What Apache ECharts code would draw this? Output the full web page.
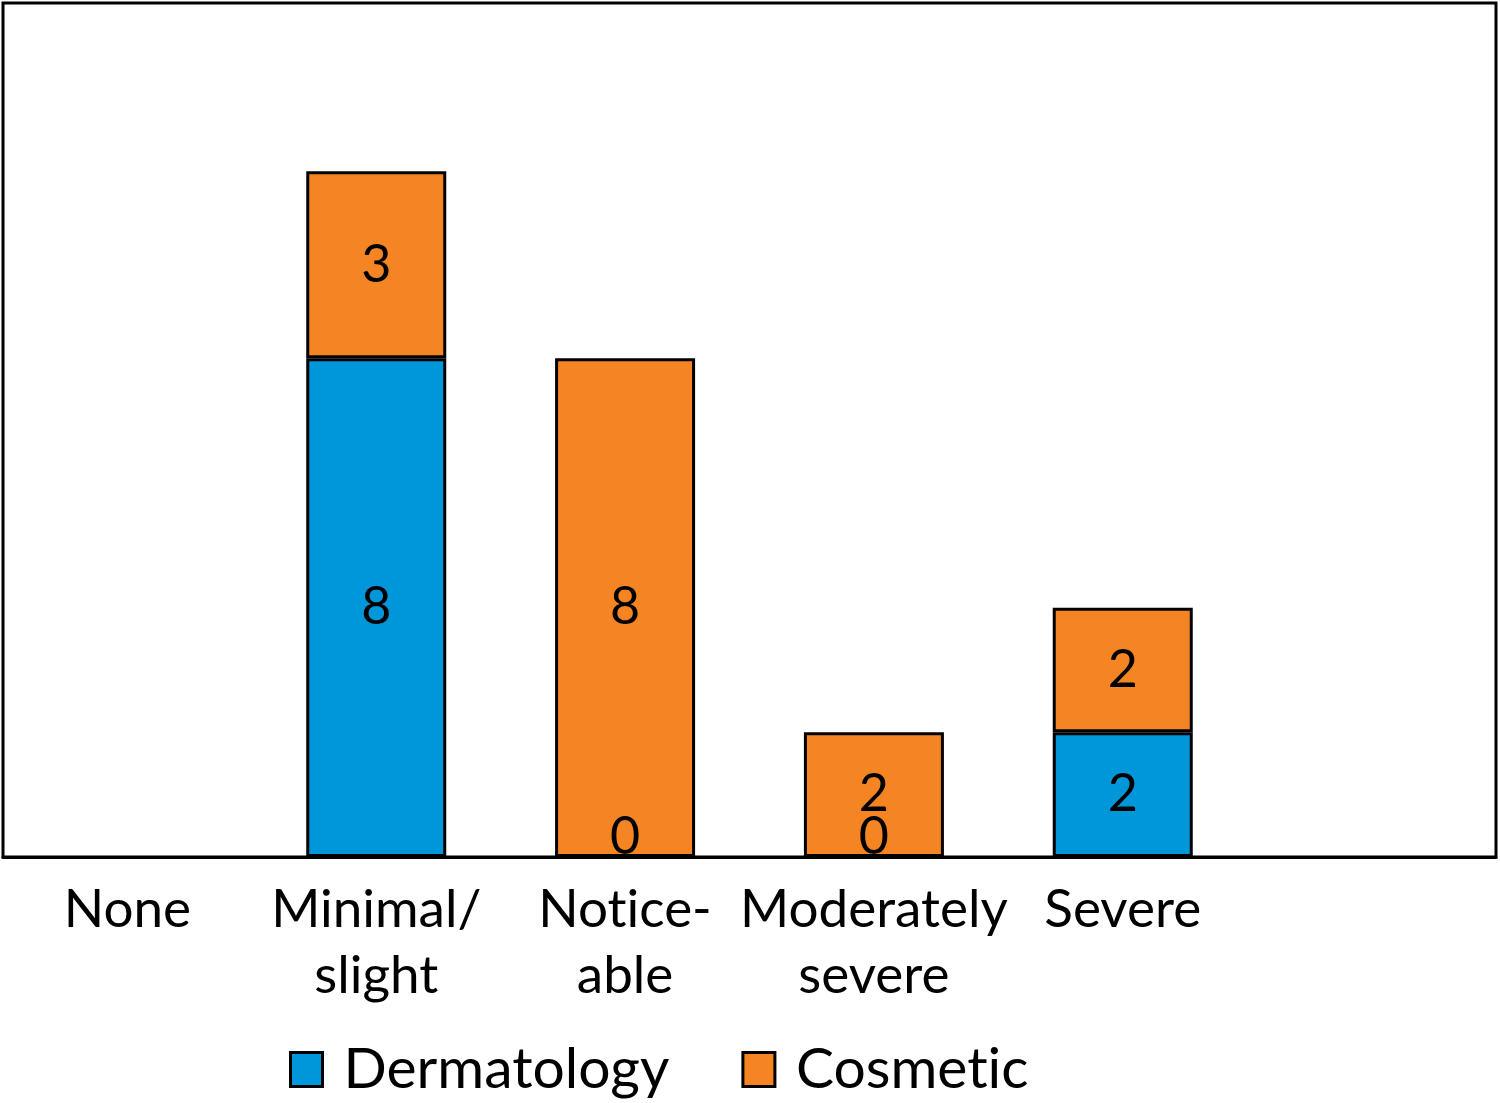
<!DOCTYPE html>
<html><head><meta charset="utf-8">
<script src="https://cdn.jsdelivr.net/npm/echarts@6/dist/echarts.min.js"></script>
<style>html,body{margin:0;padding:0;background:#fff}#c{width:1500px;height:1103px}</style>
</head><body><div id="c"></div>
<script>
const categories = ['None', 'Minimal/\nslight', 'Notice-\nable', 'Moderately\nsevere', 'Severe', ''];
const dermatology = [null, 8, 0, 0, 2, null];
const cosmetic = [null, 3, 8, 2, 2, null];
const seriesNames = ['Dermatology', 'Cosmetic'];
const colors = ['#0096DA', '#F58423'];
const FONT = 'Lato';

// turn off typographic ligatures (e.g. "ti") in canvas text
(function () {
  const P = CanvasRenderingContext2D.prototype;
  const f = P.fillText, s = P.strokeText, m = P.measureText;
  const off = ctx => { try { ctx.textRendering = 'optimizeSpeed'; ctx.fontVariantLigatures = 'none'; } catch (e) {} };
  P.fillText = function () { off(this); return f.apply(this, arguments); };
  P.strokeText = function () { off(this); return s.apply(this, arguments); };
  P.measureText = function () { off(this); return m.apply(this, arguments); };
})();

function items(arr) {
  return arr.map(v => v === 0 ? { value: v, label: { offset: [0, -20] } } : v);
}
const chart = echarts.init(document.getElementById('c'));
chart.setOption({
  animation: false,
  grid: { left: 3, right: 4, top: 3, bottom: 246, show: true, borderColor: '#000', borderWidth: 3, containLabel: false },
  xAxis: {
    type: 'category', data: categories,
    axisLine: { show: true, lineStyle: { color: '#000', width: 3 } },
    axisTick: { show: false },
    axisLabel: { color: '#000', fontFamily: FONT, fontSize: 53, lineHeight: 66, margin: 20, interval: 0 }
  },
  yAxis: { type: 'value', min: 0, max: 13.7, show: false, splitLine: { show: false } },
  legend: {
    bottom: 0, left: 284, itemWidth: 32, itemHeight: 34, itemGap: 72, icon: 'rect',
    itemStyle: { borderColor: '#000', borderWidth: 3 },
    textStyle: { color: '#000', fontFamily: FONT, fontSize: 57, padding: [0, 0, 0, 16] },
    data: seriesNames
  },
  series: [
    { name: seriesNames[0], type: 'bar', stack: 's', barWidth: 140, data: items(dermatology),
      itemStyle: { color: colors[0], borderColor: '#000', borderWidth: 3 },
      label: { show: true, position: 'inside', color: '#000', fontFamily: FONT, fontSize: 52 } },
    { name: seriesNames[1], type: 'bar', stack: 's', barWidth: 140, data: items(cosmetic),
      itemStyle: { color: colors[1], borderColor: '#000', borderWidth: 3 },
      label: { show: true, position: 'inside', color: '#000', fontFamily: FONT, fontSize: 52 } }
  ]
});
</script></body></html>
